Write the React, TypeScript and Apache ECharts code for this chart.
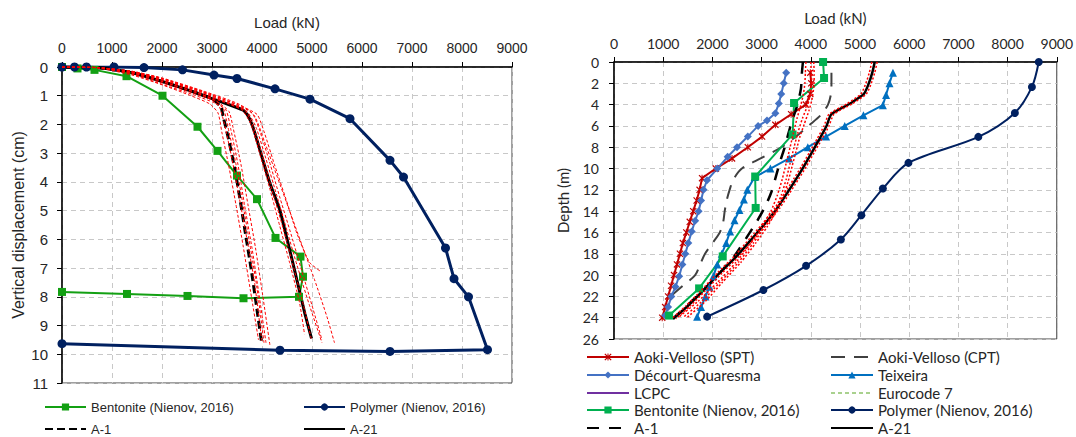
import React, { useEffect, useRef } from "react";
import * as echarts from "echarts";

// ---------- LEFT PANEL: [load kN, vertical displacement cm] ----------
const leftLoadTicks = [0, 9000, 1000];
const leftDispTicks = [0, 11, 1];

const polymerLeft = [
  [0, 0], [250, 0], [490, 0], [1040, 0], [1640, 0.02], [2410, 0.1], [3040, 0.28], [3500, 0.4],
  [4260, 0.76], [4960, 1.12], [5760, 1.8], [6560, 3.25], [6830, 3.83], [7670, 6.3], [7840, 7.37],
  [8130, 8.0], [8510, 9.84], [6560, 9.9], [4360, 9.86], [0, 9.63],
];
const bentoniteLeft = [
  [0, 0], [310, 0.05], [650, 0.1], [1290, 0.32], [2010, 1.0], [2710, 2.08], [3110, 2.92],
  [3500, 3.78], [3900, 4.6], [4270, 5.95], [4770, 6.6], [4820, 7.3], [4740, 8.0], [3630, 8.05],
  [2510, 7.97], [1300, 7.9], [0, 7.83],
];
const a1Left = [
  [0, 0], [700, 0.02], [1400, 0.2], [2000, 0.5], [2600, 0.85], [3000, 1.1], [3180, 1.4], [3220, 1.7],
  [3330, 2.5], [3450, 3.5], [3560, 4.6], [3660, 5.7], [3780, 7.0], [3880, 8.2], [3990, 9.57],
];
const a21Left = [
  [0, 0], [700, 0.02], [1400, 0.2], [2000, 0.5], [2600, 0.85], [3000, 1.1], [3400, 1.35], [3620, 1.5],
  [3720, 1.7], [3820, 2.1], [3960, 2.9], [4150, 4.0], [4360, 5.0], [4460, 5.7], [4600, 6.7],
  [4730, 7.65], [4860, 8.6], [4990, 9.45],
];
// simulation curves (red dotted)
const simL1 = [[0, 0], [700, 0.02], [1400, 0.22], [2000, 0.55], [2600, 0.9], [3000, 1.15], [3150, 1.4], [3250, 2.0], [3400, 3.2], [3550, 4.6], [3700, 6.0], [3850, 7.5], [4000, 9.6]];
const simL2 = [[0, 0], [700, 0.03], [1400, 0.25], [2000, 0.6], [2600, 0.95], [3050, 1.25], [3280, 1.5], [3380, 2.2], [3520, 3.4], [3650, 4.8], [3800, 6.3], [3930, 7.8], [4080, 9.6]];
const simL3 = [[0, 0], [700, 0.02], [1400, 0.18], [2000, 0.45], [2600, 0.8], [3100, 1.2], [3340, 1.55], [3420, 2.1], [3580, 3.4], [3720, 4.8], [3870, 6.3], [4010, 7.9], [4160, 9.7]];
const simL9 = [[0, 0], [700, 0.03], [1400, 0.28], [2000, 0.62], [2550, 0.98], [2950, 1.28], [3120, 1.6], [3200, 2.3], [3330, 3.4], [3480, 4.8], [3620, 6.2], [3770, 7.8], [3930, 9.5]];
const simL10 = [[0, 0], [700, 0.02], [1400, 0.2], [2000, 0.5], [2650, 0.88], [3080, 1.18], [3230, 1.45], [3320, 2.1], [3470, 3.3], [3610, 4.7], [3760, 6.2], [3900, 7.7], [4040, 9.6]];
const simL4 = [[0, 0], [700, 0.02], [1400, 0.2], [2000, 0.5], [2700, 0.9], [3200, 1.2], [3600, 1.5], [3780, 2.0], [3950, 3.0], [4150, 4.2], [4350, 5.5], [4550, 6.8], [4750, 8.2], [4850, 9.3]];
const simL5 = [[0, 0], [700, 0.02], [1400, 0.15], [2000, 0.4], [2800, 0.85], [3400, 1.25], [3800, 1.6], [3950, 2.2], [4150, 3.3], [4350, 4.5], [4560, 5.7], [4780, 7.0], [5000, 8.3], [5200, 9.5]];
const simL6 = [[0, 0], [700, 0.02], [1400, 0.15], [2000, 0.4], [2800, 0.85], [3500, 1.3], [3900, 1.65], [4050, 2.3], [4250, 3.4], [4480, 4.6], [4700, 5.8], [4950, 6.8], [5160, 7.1]];
const simL7 = [[0, 0], [700, 0.02], [1400, 0.18], [2000, 0.45], [2750, 0.85], [3350, 1.25], [3700, 1.55], [3880, 2.1], [4080, 3.2], [4300, 4.5], [4500, 5.7], [4700, 6.9], [4950, 8.3], [5200, 9.6]];
const simL8 = [[0, 0], [700, 0.02], [1400, 0.15], [2000, 0.38], [2850, 0.85], [3550, 1.3], [3850, 1.7], [4050, 2.6], [4300, 3.8], [4550, 5.0], [4800, 6.2], [5050, 7.4], [5300, 8.7], [5450, 9.6]];
const simL11 = [[0, 0], [700, 0.02], [1400, 0.17], [2000, 0.42], [2750, 0.86], [3300, 1.25], [3660, 1.52], [3820, 2.05], [4010, 3.1], [4220, 4.4], [4420, 5.6], [4620, 6.9], [4830, 8.3], [4990, 9.5]];
const simLeft = [simL1, simL2, simL3, simL9, simL10, simL4, simL5, simL6, simL7, simL8, simL11];

// ---------- RIGHT PANEL: [load kN, depth m] ----------
const rightLoadTicks = [0, 9000, 1000];
const rightDepthTicks = [0, 26, 2];

const aokiSpt = [
  [3990, 1], [4010, 2], [3990, 3], [3900, 4], [3600, 4.9], [3280, 5.9], [3010, 7], [2720, 8],
  [2400, 9.05], [2070, 10], [1790, 10.9], [1740, 12], [1680, 13], [1610, 14], [1540, 15],
  [1470, 16], [1400, 17], [1340, 18], [1280, 19], [1220, 20], [1160, 21], [1100, 22], [1040, 23], [980, 24],
];
const aokiCpt = [
  [4420, 1], [4420, 2], [4410, 3], [4350, 4], [4200, 5], [3950, 6], [3700, 7], [3400, 8], [3000, 9],
  [2600, 10], [2430, 11], [2350, 12], [2290, 13], [2250, 14], [2220, 15], [2150, 16], [2000, 17],
  [1850, 18], [1750, 19], [1650, 20], [1400, 21], [1150, 22],
];
const decourt = [
  [3500, 1.0], [3450, 2.0], [3400, 3.0], [3350, 3.9], [3280, 4.8], [3110, 5.5], [2930, 6.0], [2720, 7.0],
  [2500, 8.0], [2310, 8.9], [2100, 10.0], [1890, 11.1], [1820, 12], [1770, 13], [1720, 14], [1650, 14.9],
  [1580, 15.9], [1510, 17], [1450, 18], [1390, 19], [1325, 20.1], [1250, 21.1], [1165, 22], [1100, 23], [1040, 23.8],
];
const teixeira = [
  [5670, 1.0], [5600, 2.0], [5530, 3.1], [5465, 4.05], [5070, 5.0], [4690, 6.0], [4310, 7.0], [3940, 8.0],
  [3560, 9.05], [3180, 10.0], [2860, 10.8], [2710, 12], [2640, 12.9], [2550, 13.9], [2450, 14.85],
  [2360, 15.9], [2280, 17], [2190, 18], [2100, 19], [2020, 20.1], [1940, 21.1], [1860, 22], [1770, 23], [1690, 23.9],
];
const lcpc = [[0, 0], [0, 0.05]];
const eurocode7: number[][] = [];
const bentoniteRight = [
  [4250, 0], [4270, 1.5], [3660, 3.85], [3630, 6.8], [2870, 10.75], [2880, 13.7], [2210, 18.25], [1730, 21.25], [1120, 23.8],
];
const polymerRight = [
  [8634, 0], [8495, 2.34], [8148, 4.78], [7406, 7.03], [5985, 9.47], [5465, 11.88], [5028, 14.38],
  [4612, 16.66], [3904, 19.13], [3037, 21.4], [1893, 23.9],
];
const a1Right = [
  [3840, 0], [3820, 1], [3800, 2.5], [3730, 4], [3620, 5.5], [3540, 6.8], [3470, 8], [3380, 9.3],
  [3300, 10.6], [3200, 12.2], [3070, 13.6], [2900, 15], [2720, 16.3], [2450, 18.2], [2150, 19.8],
  [1820, 21.4], [1500, 22.8], [1200, 24.1],
];
const a21Right = [
  [5300, 0], [5250, 1], [5180, 2], [5080, 3], [4800, 3.9], [4420, 4.9], [4320, 6], [4180, 7.2],
  [4020, 8.5], [3860, 9.8], [3700, 11], [3520, 12.3], [3320, 13.7], [3100, 15], [2820, 16.5],
  [2500, 18.2], [2150, 19.8], [1800, 21.5], [1500, 22.9], [1200, 24.1],
];
const simR1 = [[3900, 0], [3890, 1], [3880, 2], [3850, 3], [3800, 4], [3720, 5.3], [3650, 6.6], [3580, 8], [3500, 9.5], [3420, 11], [3320, 12.5], [3190, 14], [3000, 15.5], [2780, 17], [2480, 18.8], [2100, 20.7], [1700, 22.5], [1300, 24]];
const simR2 = [[4000, 0], [4010, 1], [4020, 2], [3990, 3], [3940, 4], [3830, 5.3], [3740, 6.6], [3660, 8], [3580, 9.5], [3500, 11], [3400, 12.5], [3260, 14], [3060, 15.5], [2830, 17], [2530, 18.8], [2150, 20.7], [1780, 22.5], [1400, 24]];
const simR3 = [[4060, 0], [4070, 1.2], [4060, 2.4], [4020, 3.6], [3960, 4.6], [3870, 5.8], [3780, 7], [3700, 8.4], [3620, 9.8], [3540, 11.2], [3440, 12.6], [3300, 14], [3110, 15.5], [2880, 17], [2580, 18.8], [2200, 20.7], [1850, 22.5], [1480, 24]];
const simR4 = [[5240, 0], [5190, 1], [5120, 2], [5020, 3], [4740, 3.9], [4370, 4.9], [4270, 6], [4130, 7.2], [3970, 8.5], [3810, 9.8], [3650, 11], [3470, 12.3], [3270, 13.7], [3050, 15], [2770, 16.5], [2450, 18.2], [2100, 19.8], [1760, 21.5], [1460, 22.9], [1170, 24.1]];
const simR5 = [[5350, 0], [5300, 1], [5230, 2], [5130, 3], [4850, 3.9], [4470, 4.9], [4370, 6], [4230, 7.2], [4070, 8.5], [3910, 9.8], [3750, 11], [3570, 12.3], [3370, 13.7], [3150, 15], [2870, 16.5], [2550, 18.2], [2200, 19.8], [1850, 21.5], [1550, 22.9], [1260, 24.1]];
const simRight = [simR1, simR2, simR3, simR4, simR5];

const FL = "'Liberation Sans', Arial, sans-serif";
const FR = "Lato, 'Open Sans', sans-serif";

const asterisk =
  "path://M0,1.2L1.2,0L10,8.8L8.8,10Z M8.8,0L10,1.2L1.2,10L0,8.8Z M4.3,0H5.7V10H4.3Z";

function mkLine(
  name: string, data: number[][], gi: number, color: string, width: number,
  type: any, symbol: string, symbolSize: number, extra: any = {}
) {
  return {
    type: "line", name, data, xAxisIndex: gi, yAxisIndex: gi,
    symbol, symbolSize, showSymbol: symbol !== "none",
    lineStyle: { color, width, type },
    itemStyle: { color, borderWidth: 0 },
    emphasis: { disabled: true },
    z: 3,
    ...extra,
  };
}

const plain = (v: number) => String(v);

function xAxisCfg(gi: number, ticks: number[], font: string, fs: number, nameGap: number, margin: number) {
  return {
    gridIndex: gi, type: "value", position: "top", min: ticks[0], max: ticks[1], interval: ticks[2],
    name: "Load (kN)", nameLocation: "middle", nameGap,
    nameTextStyle: { fontFamily: font, fontSize: fs + 1, color: "#262626" },
    axisLine: { show: true, onZero: false, lineStyle: { color: "#000", width: 1.5 } },
    axisTick: { show: true, length: 5, lineStyle: { color: "#000" } },
    axisLabel: { margin, fontFamily: font, fontSize: fs, color: "#262626", formatter: plain },
    splitLine: { show: true, lineStyle: { color: "#c8c8c8", type: [5, 4], width: 1 } },
  };
}
function yAxisCfg(gi: number, ticks: number[], name: string, font: string, fs: number, nameGap: number, margin: number) {
  return {
    gridIndex: gi, type: "value", inverse: true, min: ticks[0], max: ticks[1], interval: ticks[2],
    name, nameLocation: "middle", nameGap, nameRotate: 90,
    nameTextStyle: { fontFamily: font, fontSize: fs + 1, color: "#262626" },
    axisLine: { show: true, onZero: false, lineStyle: { color: "#000", width: 1.5 } },
    axisTick: { show: true, length: 5, lineStyle: { color: "#000" } },
    axisLabel: { margin, fontFamily: font, fontSize: fs, color: "#262626", formatter: plain },
    splitLine: { show: true, lineStyle: { color: "#c8c8c8", type: [5, 4], width: 1 } },
  };
}

function legendItem(name: string, left: number, yc: number, font: string, fs: number, iw: number, noSymbol = false) {
  const l: any = {
    data: [name], left, top: yc - 8, orient: "horizontal", padding: 0,
    itemWidth: iw, itemHeight: 9, itemGap: 0, selectedMode: false,
    formatter: (n: string) => n.split("#")[0],
    textStyle: { fontFamily: font, fontSize: fs, color: "#262626", lineHeight: 16 },
  };
  if (noSymbol) l.itemStyle = { opacity: 0 };
  return l;
}

export default function App() {
  const ref = useRef<HTMLDivElement>(null);
  useEffect(() => {
    if (!ref.current) return;
    const chart = echarts.init(ref.current, null, { renderer: "svg" });
    const series: any[] = [
      mkLine("Bentonite (Nienov, 2016)#L", bentoniteLeft, 0, "#13a013", 2, "solid", "rect", 8),
      mkLine("Polymer (Nienov, 2016)#L", polymerLeft, 0, "#002060", 3, "solid", "circle", 9),
      mkLine("A-1#L", a1Left, 0, "#000000", 3, [8, 4], "none", 0, { smooth: 0.2 }),
      mkLine("A-21#L", a21Left, 0, "#000000", 3, "solid", "none", 0, { smooth: 0.2 }),
      ...simLeft.map((d, i) =>
        mkLine("simL" + i, d, 0, "#ff0000", 1, [3, 2], "none", 0, { smooth: 0.2, z: 4 })
      ),
      mkLine("Aoki-Velloso (SPT)", aokiSpt, 1, "#c00000", 2, "solid", asterisk, 7),
      mkLine("Aoki-Velloso (CPT)", aokiCpt, 1, "#404040", 2, [14, 9], "none", 0, { smooth: 0.3 }),
      mkLine("Décourt-Quaresma", decourt, 1, "#4472c4", 2, "solid", "diamond", 8),
      mkLine("Teixeira", teixeira, 1, "#0070c0", 2, "solid", "triangle", 8),
      mkLine("LCPC", lcpc, 1, "#7030a0", 3, "solid", "none", 0),
      mkLine("Eurocode 7", eurocode7, 1, "#a9d18e", 1.5, [4, 3], "none", 0),
      mkLine("Bentonite (Nienov, 2016)#R", bentoniteRight, 1, "#00b050", 2, "solid", "rect", 8),
      mkLine("Polymer (Nienov, 2016)#R", polymerRight, 1, "#002060", 2, "solid", "circle", 8, { smooth: 0.3 }),
      mkLine("A-1#R", a1Right, 1, "#000000", 2.5, [12, 10], "none", 0, { smooth: 0.2 }),
      mkLine("A-21#R", a21Right, 1, "#000000", 2.5, "solid", "none", 0, { smooth: 0.2 }),
      ...simRight.map((d, i) =>
        mkLine("simR" + i, d, 1, "#ff0000", 1.5, [2, 2], "none", 0, { smooth: 0.2, z: 4 })
      ),
    ];
    const option: any = {
      animation: false,
      backgroundColor: "#ffffff",
      grid: [
        { left: 62, top: 67, width: 450, height: 316, show: true, borderColor: "#404040", borderWidth: 1, backgroundColor: "transparent" },
        { left: 614, top: 62, width: 443, height: 277, show: true, borderColor: "#404040", borderWidth: 1, backgroundColor: "transparent" },
      ],
      xAxis: [
        xAxisCfg(0, leftLoadTicks, FL, 14, 37, 12),
        xAxisCfg(1, rightLoadTicks, FR, 14, 37, 12),
      ],
      yAxis: [
        yAxisCfg(0, leftDispTicks, "Vertical displacement (cm)", FL, 15, 36, 14),
        yAxisCfg(1, rightDepthTicks, "Depth (m)", FR, 14, 44, 15),
      ],
      legend: [
        legendItem("Bentonite (Nienov, 2016)#L", 44, 407, FL, 13, 41),
        legendItem("Polymer (Nienov, 2016)#L", 303, 407, FL, 13, 41),
        legendItem("A-1#L", 44, 429, FL, 13, 41, true),
        legendItem("A-21#L", 303, 429, FL, 13, 41, true),
        legendItem("Aoki-Velloso (SPT)", 586, 357, FR, 15, 42),
        legendItem("Aoki-Velloso (CPT)", 830, 357, FR, 15, 42, true),
        legendItem("Décourt-Quaresma", 586, 375, FR, 15, 42),
        legendItem("Teixeira", 830, 375, FR, 15, 42),
        legendItem("LCPC", 586, 393, FR, 15, 42, true),
        legendItem("Eurocode 7", 830, 393, FR, 15, 42, true),
        legendItem("Bentonite (Nienov, 2016)#R", 586, 410, FR, 15, 42),
        legendItem("Polymer (Nienov, 2016)#R", 830, 410, FR, 15, 42),
        legendItem("A-1#R", 586, 428, FR, 15, 42, true),
        legendItem("A-21#R", 830, 428, FR, 15, 42, true),
      ],
      series,
    };
    chart.setOption(option);
    return () => chart.dispose();
  }, []);
  return (
    <div
      ref={ref}
      style={{ position: "fixed", left: 0, top: 0, width: 1076, height: 437, background: "#fff" }}
    />
  );
}
